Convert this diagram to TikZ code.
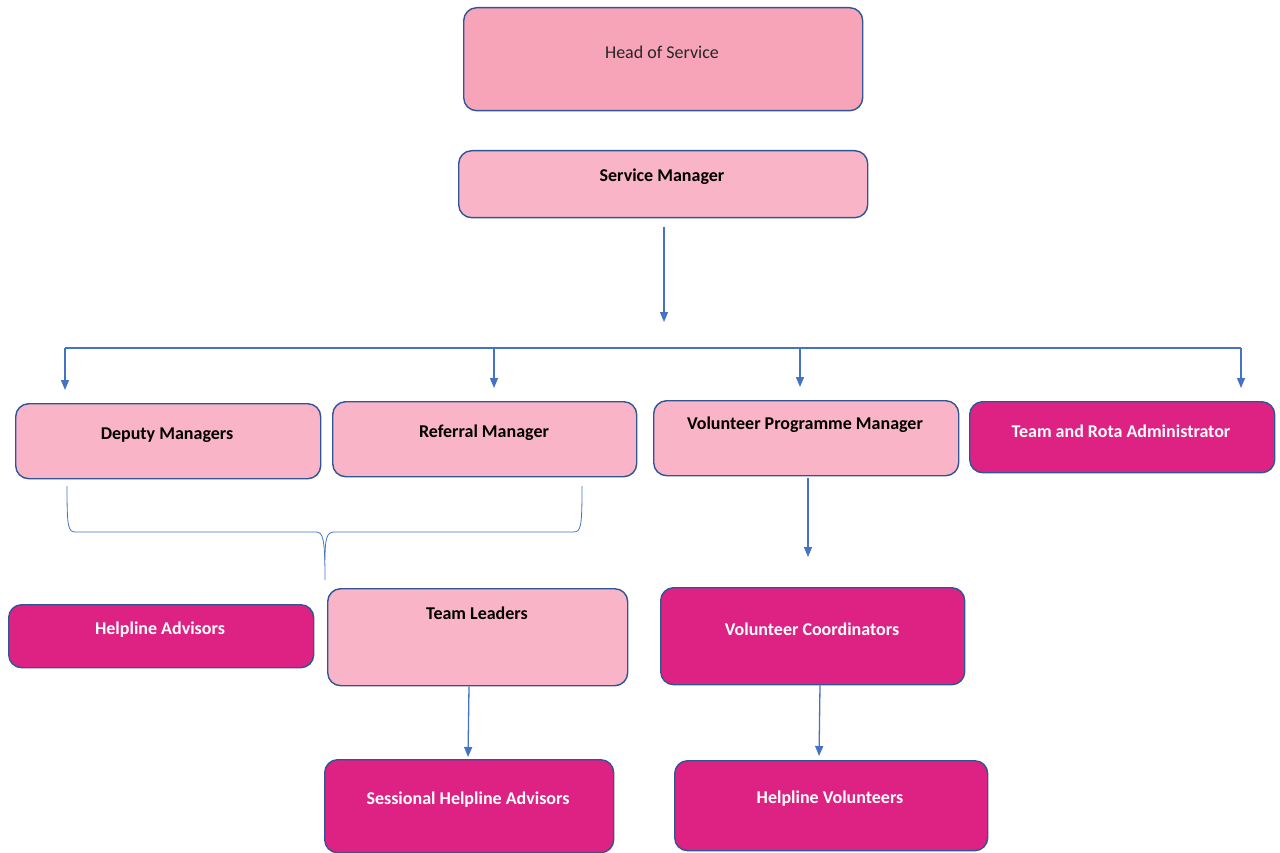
\documentclass[tikz,border=0pt]{standalone}
\usepackage{fontspec}
\setmainfont{Carlito}
\usetikzlibrary{arrows.meta}

\definecolor{headpink}{HTML}{F7A4B8}
\definecolor{lightpink}{HTML}{F9B4C7}
\definecolor{rolepink}{HTML}{DE2283}
\definecolor{boxedge}{HTML}{2F5597}
\definecolor{linkblue}{HTML}{4472C4}

\begin{document}
\begin{tikzpicture}[x=1pt,y=-1pt,
    box/.style={draw=boxedge, line width=1.4pt, rounded corners=13pt, anchor=north west, inner sep=0pt},
    light/.style={box, fill=lightpink},
    dark/.style={box, fill=rolepink},
    lbl/.style={font=\fontsize{18}{21}\selectfont\bfseries},
    wlbl/.style={lbl, text=white},
    link/.style={draw=linkblue, line width=1.3pt, -{Triangle[width=8pt,length=10pt]}}]
    \useasboundingbox (0,0) rectangle (1280,853);

    % top of the chart
    \node[box, fill=headpink, minimum width=399pt, minimum height=103pt] (head) at (463,7) {};
    \node[font=\fontsize{18}{21}\selectfont, text=black!85] (headt) at (662,52) {Head of Service};
    \node[light, minimum width=409pt, minimum height=67pt] (service) at (458,150) {};
    \node[lbl] (servicet) at (662,177) {Service Manager};

    % second row
    \node[light, minimum width=305pt, minimum height=75pt] (deputy) at (15,403) {};
    \node[lbl] (deputyt) at (167,435) {Deputy Managers};
    \node[light, minimum width=304pt, minimum height=75pt] (referral) at (332,401) {};
    \node[lbl] (referralt) at (484,433) {Referral Manager};
    \node[light, minimum width=305pt, minimum height=75pt] (volmgr) at (653,400) {};
    \node[lbl] (volmgrt) at (805,425) {Volunteer Programme Manager};
    \node[dark, minimum width=305pt, minimum height=71pt] (admin) at (969,401) {};
    \node[wlbl] (admint) at (1121,431) {Team and Rota Administrator};

    % third row
    \node[dark, minimum width=305pt, minimum height=63pt] (advisors) at (8,604) {};
    \node[wlbl] (advisorst) at (160,630) {Helpline Advisors};
    \node[light, minimum width=300pt, minimum height=97pt] (leaders) at (327,588) {};
    \node[lbl] (leaderst) at (477,613) {Team Leaders};
    \node[dark, minimum width=304pt, minimum height=97pt] (coord) at (660,587) {};
    \node[wlbl] (coordt) at (812,629) {Volunteer Coordinators};

    % bottom row
    \node[dark, minimum width=289pt, minimum height=93pt] (sessional) at (324,759) {};
    \node[wlbl] (sessionalt) at (468,800) {Sessional Helpline Advisors};
    \node[dark, minimum width=313pt, minimum height=90pt] (volunteers) at (674,760) {};
    \node[wlbl] (volunteerst) at (830,799) {Helpline Volunteers};

    % connectors
    \coordinate (drop) at (664,322);
    \coordinate (busL) at (65,348);
    \coordinate (busR) at (1241,348);
    \draw[link, shorten <=9pt] (service.south -| drop) -- (drop);
    \draw[linkblue, line width=1.1pt] (busL) -- (busR);
    \foreach \x/\n in {65/deputy,494/referral,800/volmgr,1241/admin}
        \draw[link, shorten >=13pt] (\x,348) -- (\x,348 |- \n.north);
    \draw[link, shorten <=3pt, shorten >=30pt] (808,475) -- (808,475 |- coord.north);
    \draw[link, shorten >=2pt] (leaders.south -| 469,0) -- (468,759);
    \draw[link, shorten >=4pt] (coord.south -| 820,0) -- (819,760);

    % brace joining deputies and referral to team leaders
    \draw[linkblue, line width=0.8pt] (67,486) .. controls (67,528) and (68,532) .. (76,532)
        -- (316,532) .. controls (323,532) and (325,538) .. (325,580);
    \draw[linkblue, line width=0.8pt] (582,486) .. controls (582,528) and (581,532) .. (573,532)
        -- (334,532) .. controls (327,532) and (325,538) .. (325,560);
\end{tikzpicture}
\end{document}
